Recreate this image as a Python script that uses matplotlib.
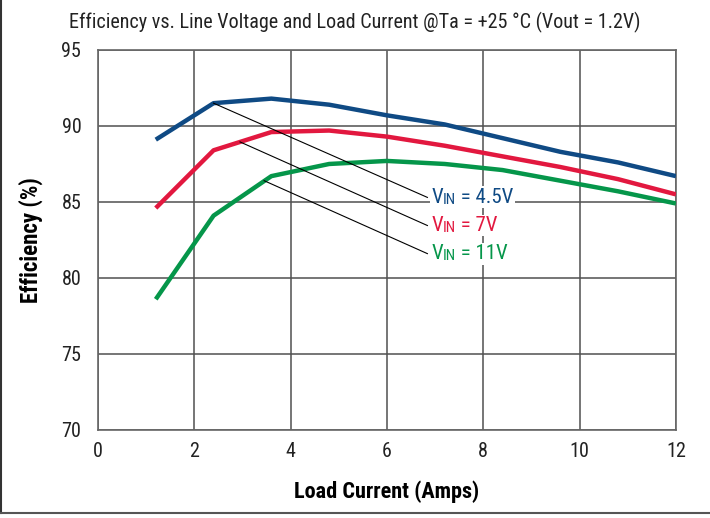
import matplotlib
matplotlib.use('Agg')
import matplotlib.pyplot as plt
from matplotlib.lines import Line2D

plt.rcParams['font.family'] = ['Roboto Condensed', 'Liberation Sans Narrow', 'Roboto', 'DejaVu Sans']

# load current (A) and efficiency (%) for each input voltage
current = [1.2, 2.4, 3.6, 4.8, 6.0, 7.2, 8.4, 9.6, 10.8, 12.0]
eff_4v5 = [89.1, 91.5, 91.8, 91.4, 90.7, 90.1, 89.2, 88.3, 87.6, 86.7]
eff_7v = [84.6, 88.4, 89.6, 89.7, 89.3, 88.7, 88.0, 87.3, 86.5, 85.5]
eff_11v = [78.6, 84.1, 86.7, 87.5, 87.7, 87.5, 87.1, 86.4, 85.7, 84.9]

series = [
    ('4.5V', eff_4v5, '#0f4a84'),
    ('7V', eff_7v, '#e2183f'),
    ('11V', eff_11v, '#05964a'),
]
# where each leader line leaves its curve, and where its label sits
leader_from = [(2.4, 91.5), (2.95, 88.95), (3.45, 86.4)]
label_at = [(6.92, 85.3), (6.92, 83.45), (6.92, 81.6)]

fig = plt.figure(figsize=(7.10, 5.18), dpi=100)
ax = fig.add_axes([0.138, 0.17, 0.814, 0.7335])

for name, eff, color in series:
    ax.plot(current, eff, color=color, lw=3.2, solid_capstyle='butt', zorder=3)

ax.set_xlim(0, 12)
ax.set_ylim(70, 95)
ax.set_xticks(range(0, 13, 2))
ax.set_yticks(range(70, 96, 5))
ax.grid(True, color='#505050', lw=1.1)
ax.tick_params(length=0, labelsize=14.5, colors='#222222')
ax.tick_params(axis='y', pad=12)
ax.tick_params(axis='x', pad=9)
for s in ax.spines.values():
    s.set_color('#666666')
    s.set_linewidth(1.2)

ax.set_xlabel('Load Current (Amps)', fontsize=16, fontweight='bold')
ax.set_ylabel('Efficiency (%)', fontsize=16.5, fontweight='bold')
ax.xaxis.set_label_coords(0.5, -0.132)
ax.yaxis.set_label_coords(-0.095, 0.5)
fig.text(0.5, 0.957, 'Efficiency vs. Line Voltage and Load Current @Ta = +25 °C (Vout = 1.2V)',
         ha='center', va='center', fontsize=14.5, color='#222222')

for (name, eff, color), (x0, y0), (x1, y1) in zip(series, leader_from, label_at):
    ax.plot([x0, x1 - 0.08], [y0, y1], color='black', lw=0.8, zorder=4)
    t1 = ax.text(x1, y1, 'V', color=color, fontsize=15, va='center', ha='left', zorder=5,
                 bbox=dict(facecolor='white', edgecolor='none', pad=1))
    t2 = ax.annotate('IN', xy=(1, 0), xycoords=t1, va='bottom', ha='left',
                     color=color, fontsize=11, zorder=5,
                     bbox=dict(facecolor='white', edgecolor='none', pad=1))
    ax.annotate(' = ' + name, xy=(1, 0), xycoords=t2, va='bottom', ha='left',
                color=color, fontsize=15, zorder=5,
                bbox=dict(facecolor='white', edgecolor='none', pad=1))

# frame lines on the left and bottom of the figure
fig.add_artist(Line2D([0.002, 0.002], [0.01, 1.0], color='#333333', lw=1.5))
fig.add_artist(Line2D([0.0, 1.0], [0.01, 0.01], color='#555555', lw=1.5))

fig.savefig('out.png', dpi=100)
